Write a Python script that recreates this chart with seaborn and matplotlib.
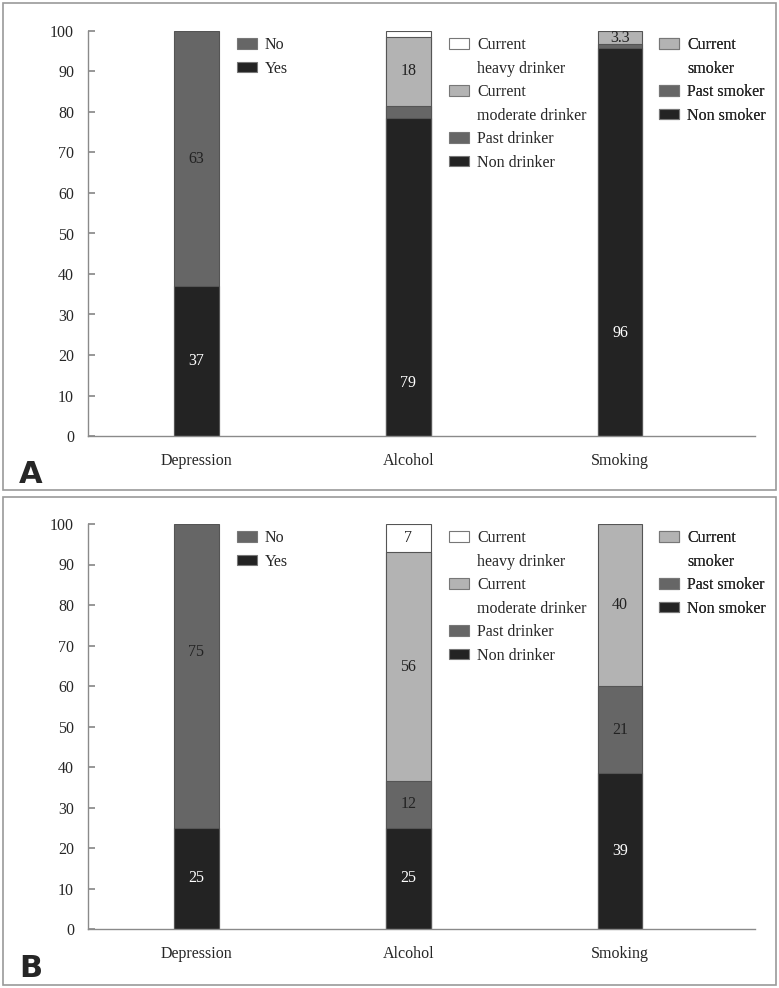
import numpy as np
import matplotlib.pyplot as plt
import seaborn as sns
from matplotlib.patches import Patch, Rectangle

sns.set_theme(style="white")
plt.rcParams['font.family'] = ['Liberation Serif', 'DejaVu Serif']

# categories on the x axis
categories = ["Depression", "Alcohol", "Smoking"]

# segment names, bottom to top
dep_names = ["Yes", "No"]
alc_names = ["Non drinker", "Past drinker", "Current\nmoderate drinker", "Current\nheavy drinker"]
smk_names = ["Non smoker", "Past smoker", "Current\nsmoker"]

# panel A values (%), bottom to top
dep_a = [37, 63]
alc_a = [78.5, 3, 17, 1.5]
smk_a = [95.7, 1, 3.3]
dep_a_lab = ["37", "63"]
alc_a_lab = ["79", "", "18", ""]
smk_a_lab = ["96", "", "3.3"]

# panel B values (%), bottom to top
dep_b = [25, 75]
alc_b = [25, 11.5, 56.5, 7]
smk_b = [38.5, 21.5, 40]
dep_b_lab = ["25", "75"]
alc_b_lab = ["25", "12", "56", "7"]
smk_b_lab = ["39", "21", "40"]

DARK, MID, LIGHT, WHITE = "#232323", "#666666", "#b3b3b3", "#ffffff"
dep_cols = [DARK, MID]
alc_cols = [DARK, MID, LIGHT, WHITE]
smk_cols = [DARK, MID, LIGHT]

# where a label does not sit at the segment centre (y in %)
label_y_a = {("Alcohol", 0): 13, ("Smoking", 0): 25.4, ("Depression", 1): 68.4}
label_y_b = {("Depression", 1): 68.4}

FS = 11.5
BAR_W = 0.21


def draw_panel(ax, groups, label_y):
    for cat, vals, labs, cols, names, lx in groups:
        cum = np.cumsum(vals)
        # draw cumulative totals from the top down so lower segments overlay
        for j in range(len(vals) - 1, -1, -1):
            sns.barplot(x=[cat], y=[cum[j]], order=categories, color=cols[j],
                        saturation=1, width=BAR_W, edgecolor="#555555",
                        linewidth=0.8, ax=ax)
        i = categories.index(cat)
        for j, lab in enumerate(labs):
            if not lab:
                continue
            lo = cum[j] - vals[j]
            y = label_y.get((cat, j), (lo + cum[j]) / 2)
            tc = "white" if cols[j] == DARK else "#222222"
            ax.text(i, y, lab, ha="center", va="center", fontsize=FS, color=tc)

        # legend: top segment first, wrapped lines get an empty handle
        handles, texts = [], []
        for j in range(len(vals) - 1, -1, -1):
            lines = names[j].split("\n")
            handles.append(Patch(facecolor=cols[j], edgecolor="#777777", linewidth=0.8))
            texts.append(lines[0])
            for extra in lines[1:]:
                handles.append(Patch(facecolor="none", edgecolor="none"))
                texts.append(extra)
        leg = ax.legend(handles, texts, loc="upper left", bbox_to_anchor=(lx, 0.985),
                        frameon=False, fontsize=FS, borderpad=0, borderaxespad=0,
                        handlelength=1.25, handleheight=0.62, handletextpad=0.5,
                        labelspacing=0.47)
        ax.add_artist(leg)

    ax.set_xlim(-0.512, 2.637)
    ax.set_ylim(0, 100)
    ax.set_yticks(np.arange(0, 101, 10))
    ax.set_xlabel("")
    ax.set_ylabel("")
    for s in ["top", "right"]:
        ax.spines[s].set_visible(False)
    for s in ["left", "bottom"]:
        ax.spines[s].set_color("#8a8a8a")
        ax.spines[s].set_linewidth(1.0)
    ax.tick_params(axis="y", left=True, direction="in", length=5, color="#8a8a8a",
                   labelsize=FS, pad=10)
    ax.tick_params(axis="x", bottom=False, labelsize=FS, pad=6.5)


fig = plt.figure(figsize=(7.79, 9.88), dpi=100)
W, H = 779, 988
L, R = 88, 755

ax_a = fig.add_axes([L / W, 1 - 436 / H, (R - L) / W, 405 / H])
ax_b = fig.add_axes([L / W, 1 - 929 / H, (R - L) / W, 405 / H])

leg_x = [(237 - L) / (R - L), (449 - L) / (R - L), (659 - L) / (R - L)]

draw_panel(ax_a, [
    ("Depression", dep_a, dep_a_lab, dep_cols, dep_names, leg_x[0]),
    ("Alcohol", alc_a, alc_a_lab, alc_cols, alc_names, leg_x[1]),
    ("Smoking", smk_a, smk_a_lab, smk_cols, smk_names, leg_x[2]),
], label_y_a)

draw_panel(ax_b, [
    ("Depression", dep_b, dep_b_lab, dep_cols, dep_names, leg_x[0]),
    ("Alcohol", alc_b, alc_b_lab, alc_cols, alc_names, leg_x[1]),
    ("Smoking", smk_b, smk_b_lab, smk_cols, smk_names, leg_x[2]),
], label_y_b)

# panel frames
for top, bot in [(3, 490), (497, 985)]:
    fig.patches.append(Rectangle((3 / W, 1 - bot / H), (776 - 3) / W, (bot - top) / H,
                                 transform=fig.transFigure, fill=False,
                                 edgecolor="#9a9a9a", linewidth=1.2))

fig.text(19 / W, 1 - 483 / H, "A", fontsize=22, fontweight="bold",
         family=["DejaVu Sans"], ha="left", va="baseline")
fig.text(19 / W, 1 - 977 / H, "B", fontsize=22, fontweight="bold",
         family=["DejaVu Sans"], ha="left", va="baseline")

fig.savefig("out.png", dpi=100)
